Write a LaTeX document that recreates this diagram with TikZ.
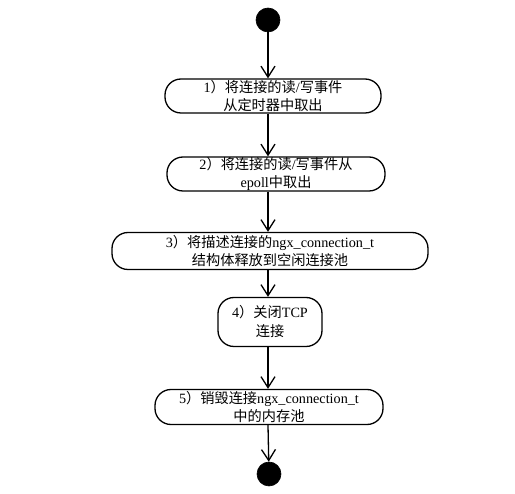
\documentclass[tikz,border=0pt]{standalone}
\usepackage{fontspec}
\setmainfont{Liberation Serif}
\newfontfamily\cjk{Noto Sans CJK SC}
\newcommand{\lat}[1]{{\rmfamily #1}}
\usetikzlibrary{arrows.meta}
\begin{document}
\begin{tikzpicture}[x=1pt,y=-1pt,
 act/.style={draw, line width=1.3pt, rounded corners=16pt, align=center, inner sep=0pt,
   font=\cjk\fontsize{14.2}{17.5}\selectfont},
 flow/.style={line width=1.3pt, -{Straight Barb[length=11pt,width=14pt,line width=1.3pt]}},
 dot/.style={circle, fill=black, draw=black, line width=0.6pt, minimum size=24pt, inner sep=0pt}]
\useasboundingbox (0,0) rectangle (515,494);
\node[dot] (s) at (268,20) {};
\node[act, minimum width=216pt, minimum height=34pt] (n1) at (273,96)
  {\lat{1}）将连接的读\lat{/}写事件\\从定时器中取出};
\node[act, minimum width=218pt, minimum height=34pt] (n2) at (276,174)
  {\lat{2}）将连接的读\lat{/}写事件从\\\lat{epoll}中取出};
\node[act, minimum width=316pt, minimum height=37pt] (n3) at (270,251)
  {\lat{3}）将描述连接的\lat{ngx\_connection\_t}\\结构体释放到空闲连接池};
\node[act, minimum width=104pt, minimum height=49pt, font=\cjk\fontsize{14.2}{19}\selectfont] (n4) at (270,322)
  {\lat{4}）关闭\lat{TCP}\\连接};
\node[act, minimum width=228pt, minimum height=35pt] (n5) at (269,407)
  {\lat{5}）销毁连接\lat{ngx\_connection\_t}\\中的内存池};
\node[dot] (e) at (269,474) {};
\draw[flow] (s) -- (s |- n1.north);
\draw[flow] (s |- n1.south) -- (s |- n2.north);
\draw[flow] (s |- n2.south) -- (s |- n3.north);
\draw[flow] (s |- n3.south) -- (s |- n4.north);
\draw[flow] (s |- n4.south) -- (s |- n5.north);
\draw[flow] (s |- n5.south) -- (e);
\end{tikzpicture}
\end{document}
